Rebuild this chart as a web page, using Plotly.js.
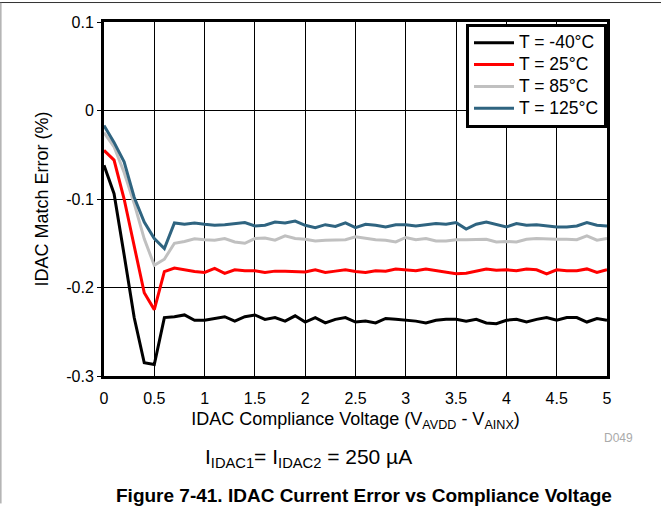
<!DOCTYPE html>
<html>
<head>
<meta charset="utf-8">
<script src="https://cdn.plot.ly/plotly-3.0.1.min.js"></script>
<style>html,body{margin:0;padding:0;background:#fff;}#chart{width:661px;height:508px;}</style>
</head>
<body>
<div id="chart"></div>
<script>
const voltage = [0,0.1,0.2,0.3,0.4,0.5,0.6,0.7,0.8,0.9,1.0,1.1,1.2,1.3,1.4,1.5,1.6,1.7,1.8,1.9,2.0,2.1,2.2,2.3,2.4,2.5,2.6,2.7,2.8,2.9,3.0,3.1,3.2,3.3,3.4,3.5,3.6,3.7,3.8,3.9,4.0,4.1,4.2,4.3,4.4,4.5,4.6,4.7,4.8,4.9,5.0];

const errM40 = [-0.062,-0.094,-0.163,-0.234,-0.285,-0.287,-0.234,-0.233,-0.231,-0.237,-0.237,-0.235,-0.233,-0.238,-0.233,-0.231,-0.236,-0.234,-0.238,-0.232,-0.239,-0.234,-0.240,-0.236,-0.234,-0.239,-0.238,-0.240,-0.235,-0.236,-0.237,-0.238,-0.240,-0.237,-0.236,-0.236,-0.238,-0.236,-0.240,-0.241,-0.237,-0.236,-0.239,-0.236,-0.234,-0.237,-0.234,-0.234,-0.239,-0.235,-0.237];

const err25 = [-0.045,-0.056,-0.100,-0.155,-0.206,-0.225,-0.182,-0.178,-0.180,-0.182,-0.183,-0.1785,-0.184,-0.180,-0.181,-0.181,-0.183,-0.1815,-0.1815,-0.182,-0.1825,-0.180,-0.183,-0.1815,-0.180,-0.182,-0.183,-0.181,-0.1815,-0.179,-0.180,-0.181,-0.179,-0.181,-0.183,-0.1845,-0.184,-0.1815,-0.179,-0.1805,-0.180,-0.181,-0.179,-0.180,-0.1845,-0.180,-0.181,-0.181,-0.179,-0.183,-0.180];

const err85 = [-0.025,-0.041,-0.070,-0.105,-0.145,-0.175,-0.168,-0.150,-0.148,-0.145,-0.146,-0.1466,-0.1447,-0.1485,-0.150,-0.1447,-0.144,-0.1466,-0.1417,-0.1447,-0.1455,-0.1474,-0.1466,-0.1466,-0.146,-0.1428,-0.1447,-0.146,-0.1466,-0.1485,-0.1435,-0.146,-0.1447,-0.1474,-0.1474,-0.146,-0.146,-0.1455,-0.1455,-0.1485,-0.148,-0.1485,-0.1455,-0.1447,-0.1455,-0.1455,-0.1455,-0.146,-0.1417,-0.1466,-0.1447];

const err125 = [-0.017,-0.036,-0.058,-0.098,-0.126,-0.1447,-0.156,-0.127,-0.1285,-0.127,-0.1285,-0.1297,-0.129,-0.1278,-0.1267,-0.1304,-0.1297,-0.126,-0.127,-0.125,-0.1297,-0.1323,-0.129,-0.131,-0.127,-0.1323,-0.1285,-0.1297,-0.1315,-0.129,-0.129,-0.1304,-0.129,-0.1278,-0.1285,-0.1267,-0.134,-0.1285,-0.126,-0.129,-0.1315,-0.1278,-0.1297,-0.129,-0.1304,-0.1315,-0.1315,-0.1304,-0.1267,-0.1297,-0.1304];

const seriesNames = ['T = -40\u00B0C','T = 25\u00B0C','T = 85\u00B0C','T = 125\u00B0C'];
const seriesColors = ['#000000','#ff0000','#c0c0c0','#2f6480'];
const seriesData = [errM40, err25, err85, err125];

const xTicks = [0,0.5,1,1.5,2,2.5,3,3.5,4,4.5,5];
const xTickText = ['0','0.5','1','1.5','2','2.5','3','3.5','4','4.5','5'];
const yTicks = [0.1,0,-0.1,-0.2,-0.3];
const yTickText = ['0.1','0','-0.1','-0.2','-0.3'];

const traces = seriesData.map((d,i)=>({
  x: voltage, y: d, type:'scatter', mode:'lines',
  name: '<span style="font-size:17.5px">' + seriesNames[i] + '</span>',
  line:{color: seriesColors[i], width:3}
}));

const font = 'Liberation Sans, Arial, sans-serif';
const layout = {
  width:661, height:508,
  margin:{l:104, r:54, t:22, b:132},
  paper_bgcolor:'#fff', plot_bgcolor:'#fff',
  showlegend:true,
  font:{family:font, color:'#000', size:15},
  legend:{x:1, xanchor:'right', y:0.995, yanchor:'top', bordercolor:'#000', borderwidth:3,
          bgcolor:'#fff', font:{size:14.5, family:font}, tracegroupgap:0, itemwidth:40},
  xaxis:{range:[0,5], tickvals:xTicks, ticktext:xTickText, showgrid:true, gridcolor:'#000', gridwidth:1,
         zeroline:false, showline:true, linecolor:'#000', linewidth:3, mirror:true, ticks:'', ticklabelstandoff:6,
         tickfont:{size:16}, fixedrange:true,
         title:{text:'IDAC Compliance Voltage (V<sub>AVDD</sub> - V<sub>AINX</sub>)', font:{size:18}, standoff:7}},
  yaxis:{range:[-0.3,0.1], tickvals:yTicks, ticktext:yTickText, showgrid:true, gridcolor:'#000', gridwidth:1,
         zeroline:false, showline:true, linecolor:'#000', linewidth:3, mirror:true, ticks:'outside', ticklen:4, tickcolor:'#000',
         tickfont:{size:16}, fixedrange:true,
         title:{text:'IDAC Match Error (%)', font:{size:18}, standoff:13}},
  annotations:[
    {text:'D049', xref:'paper', yref:'paper', x:0.99, y:-0.175, xanchor:'left', yanchor:'middle', showarrow:false, font:{size:12, color:'#aaaaaa'}},
    {text:'I<sub>IDAC1</sub>= I<sub>IDAC2</sub> = 250 \u00B5A', xref:'paper', yref:'paper', x:0.406, y:-0.233, xanchor:'center', yanchor:'middle', showarrow:false, font:{size:21}},
    {text:'<b>Figure 7-41. IDAC Current Error vs Compliance Voltage</b>', xref:'paper', yref:'paper', x:0.517, y:-0.338, xanchor:'center', yanchor:'middle', showarrow:false, font:{size:19}}
  ],
  shapes:[
    {type:'line', xref:'paper', yref:'paper', x0:-0.21, x1:1.11, y0:1.055, y1:1.055, line:{color:'#333', width:1}},
    {type:'line', xref:'paper', yref:'paper', x0:-0.205, x1:-0.205, y0:1.055, y1:-0.36, line:{color:'#888', width:1}}
  ]
};
Plotly.newPlot('chart', traces, layout, {displayModeBar:false, staticPlot:true});
</script>
</body>
</html>
